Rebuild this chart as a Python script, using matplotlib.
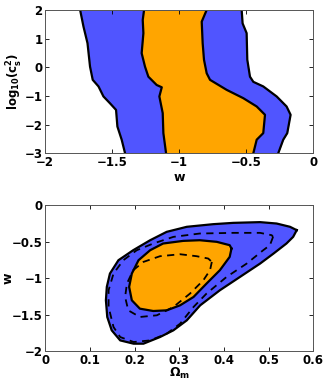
import numpy as np
import matplotlib
matplotlib.use('Agg')
import matplotlib.pyplot as plt

# ---- top panel: w vs log10(cs^2), 68% (orange) and 95% (blue) bands
y_outer_left = [2.0, 1.42, 0.84, 0.02, -0.44, -0.67, -1.02, -1.26, -1.49, -2.07, -2.53, -3.0]
w_outer_left = [-1.739, -1.714, -1.684, -1.665, -1.645, -1.602, -1.565, -1.516, -1.471, -1.461, -1.429, -1.404]
y_inner_left = [2.0, 1.65, 1.19, 0.49, 0.02, -0.33, -0.62, -0.70, -1.02, -1.60, -2.30, -3.0]
w_inner_left = [-1.262, -1.272, -1.267, -1.280, -1.255, -1.230, -1.168, -1.130, -1.148, -1.123, -1.118, -1.098]
y_inner_right = [2.0, 1.59, 0.84, 0.26, -0.21, -0.44, -0.79, -1.08, -1.37, -1.66, -2.30, -2.53, -3.0]
w_inner_right = [-0.795, -0.832, -0.825, -0.815, -0.795, -0.770, -0.646, -0.522, -0.422, -0.360, -0.373, -0.422, -0.447]
y_outer_right = [2.0, 1.53, 1.19, 0.26, -0.33, -0.51, -0.67, -1.02, -1.37, -1.66, -2.30, -2.53, -3.0]
w_outer_right = [-0.534, -0.527, -0.497, -0.492, -0.472, -0.447, -0.373, -0.273, -0.199, -0.169, -0.194, -0.224, -0.261]

# ---- bottom panel: Omega_m vs w contours
om_outer = [0.563, 0.555, 0.540, 0.511, 0.481, 0.436, 0.391, 0.347, 0.317, 0.287, 0.257, 0.220, 0.198, 0.168,
            0.149, 0.139, 0.136, 0.138, 0.145, 0.164, 0.197, 0.235, 0.272, 0.317, 0.376, 0.421, 0.481, 0.518, 0.548]
w_outer = [-0.343, -0.435, -0.526, -0.664, -0.801, -0.984, -1.167, -1.373, -1.579, -1.716, -1.808, -1.899, -1.899, -1.854,
           -1.716, -1.533, -1.304, -1.121, -0.938, -0.755, -0.618, -0.481, -0.366, -0.297, -0.261, -0.243, -0.233, -0.252, -0.297]
om_inner = [0.417, 0.413, 0.391, 0.361, 0.332, 0.302, 0.272, 0.242, 0.212, 0.194, 0.188, 0.194, 0.209, 0.235,
            0.264, 0.309, 0.346, 0.384, 0.413]
w_inner = [-0.595, -0.709, -0.892, -1.076, -1.259, -1.373, -1.442, -1.451, -1.419, -1.304, -1.121, -0.938, -0.755, -0.618,
           -0.526, -0.490, -0.481, -0.503, -0.549]
om_dash_outer = [0.510, 0.503, 0.488, 0.451, 0.406, 0.361, 0.332, 0.302, 0.272, 0.235, 0.198, 0.168, 0.153, 0.142,
                 0.142, 0.153, 0.175, 0.205, 0.242, 0.287, 0.346, 0.421, 0.481, 0.507]
w_dash_outer = [-0.435, -0.549, -0.618, -0.801, -0.984, -1.213, -1.396, -1.625, -1.762, -1.854, -1.876, -1.808, -1.670, -1.396,
                -1.167, -0.938, -0.755, -0.618, -0.526, -0.435, -0.389, -0.380, -0.380, -0.412]
om_dash_inner = [0.373, 0.369, 0.354, 0.324, 0.287, 0.250, 0.212, 0.186, 0.179, 0.183, 0.197, 0.220, 0.257, 0.302,
                 0.339, 0.365]
w_dash_inner = [-0.778, -0.892, -1.030, -1.213, -1.396, -1.510, -1.533, -1.442, -1.259, -1.076, -0.892, -0.778, -0.700, -0.673,
                -0.700, -0.732]

blue = '#5055ff'
orange = '#ffa500'
plt.rcParams['font.weight'] = 'bold'
plt.rcParams['font.size'] = 8


def close(a):
    return list(a) + [a[0]]


def style_axes(ax):
    ax.tick_params(direction='in', top=True, right=True, length=3, width=0.6, colors='k', labelsize=8.5, pad=2)
    for s in ax.spines.values():
        s.set_color('#555555')
        s.set_linewidth(0.7)


fig = plt.figure(figsize=(3.27, 3.82), dpi=100)

# ============================ top panel ========================================
ax1 = fig.add_axes([0.138, 0.599, 0.820, 0.375])
ygrid = np.linspace(-3, 2, 400)
wol = np.interp(ygrid, y_outer_left[::-1], w_outer_left[::-1])
wil = np.interp(ygrid, y_inner_left[::-1], w_inner_left[::-1])
wir = np.interp(ygrid, y_inner_right[::-1], w_inner_right[::-1])
wor = np.interp(ygrid, y_outer_right[::-1], w_outer_right[::-1])
ax1.fill_betweenx(ygrid, wol, wor, color=blue, lw=0)
ax1.fill_betweenx(ygrid, wil, wir, color=orange, lw=0)
for xx, yy in [(w_outer_left, y_outer_left), (w_inner_left, y_inner_left),
               (w_inner_right, y_inner_right), (w_outer_right, y_outer_right)]:
    ax1.plot(xx, yy, color='k', lw=1.6)
ax1.set_xlim(-2, 0)
ax1.set_ylim(-3, 2)
ax1.set_xticks([-2, -1.5, -1, -0.5, 0])
ax1.set_xticklabels(['\u22122', '\u22121.5', '\u22121', '\u22120.5', '0'])
ax1.set_yticks([-3, -2, -1, 0, 1, 2])
ax1.set_yticklabels(['\u22123', '\u22122', '\u22121', '0', '1', '2'])
ax1.set_xlabel('w', fontsize=9, fontweight='bold')
ax1.xaxis.set_label_coords(0.5, -0.125)
ax1.set_ylabel(r'$\mathbf{log_{10}(c_s^2)}$', fontsize=8.5)
ax1.yaxis.set_label_coords(-0.075, 0.5)
style_axes(ax1)

# ============================ bottom panel ========================================
ax2 = fig.add_axes([0.138, 0.081, 0.820, 0.382])
ax2.fill(close(om_outer), close(w_outer), color=blue, lw=0)
ax2.plot(close(om_outer), close(w_outer), color='k', lw=1.6)
ax2.fill(close(om_inner), close(w_inner), color=orange, lw=0)
ax2.plot(close(om_inner), close(w_inner), color='k', lw=1.6)
ax2.plot(close(om_dash_outer), close(w_dash_outer), color='k', lw=1.3, ls=(0, (4, 3)))
ax2.plot(close(om_dash_inner), close(w_dash_inner), color='k', lw=1.3, ls=(0, (4, 3)))
ax2.set_xlim(0, 0.6)
ax2.set_ylim(-2, 0)
ax2.set_xticks([0, 0.1, 0.2, 0.3, 0.4, 0.5, 0.6])
ax2.set_xticklabels(['0', '0.1', '0.2', '0.3', '0.4', '0.5', '0.6'])
ax2.set_yticks([-2, -1.5, -1, -0.5, 0])
ax2.set_yticklabels(['\u22122', '\u22121.5', '\u22121', '\u22120.5', '0'])
ax2.set_xlabel(r'$\mathbf{\Omega_m}$', fontsize=9)
ax2.xaxis.set_label_coords(0.5, -0.1)
ax2.set_ylabel('w', fontsize=9, fontweight='bold')
ax2.yaxis.set_label_coords(-0.115, 0.5)
style_axes(ax2)

plt.savefig('out.png', dpi=100)
